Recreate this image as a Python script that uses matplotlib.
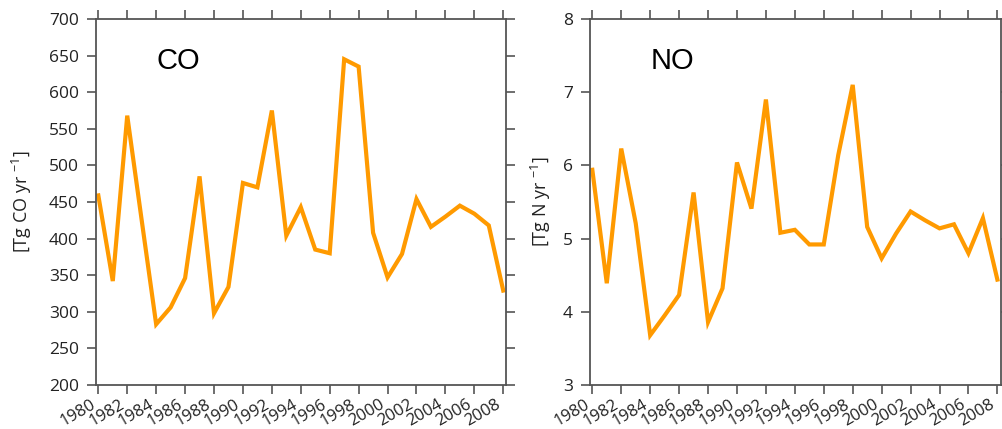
import matplotlib
matplotlib.use("Agg")
import matplotlib.pyplot as plt
import numpy as np

years = list(range(1980, 2009))
co_values = [459, 342, 568, 425, 283, 306, 346, 485, 298, 334, 476, 470, 575, 404,
             443, 385, 380, 645, 635, 408, 347, 379, 454, 416, 430, 445, 434, 418, 329]
no_values = [5.94, 4.39, 6.23, 5.21, 3.68, 3.95, 4.23, 5.63, 3.86, 4.32, 6.04, 5.41,
             6.90, 5.08, 5.12, 4.92, 4.92, 6.14, 7.10, 5.16, 4.73, 5.07, 5.37, 5.25,
             5.14, 5.195, 4.80, 5.28, 4.44]
xticks = list(range(1980, 2009, 2))
co_yticks = list(range(200, 701, 50))
no_yticks = [3, 4, 5, 6, 7, 8]
panel_titles = ["CO", "NO"]
ylabels = [r"[Tg CO yr $^{-1}$]", r"[Tg N yr $^{-1}$]"]

plt.rcParams['font.family'] = ['Open Sans', 'DejaVu Sans']
plt.rcParams['mathtext.fontset'] = 'custom'
plt.rcParams['mathtext.rm'] = 'Open Sans'
plt.rcParams['mathtext.it'] = 'Open Sans'
plt.rcParams['mathtext.default'] = 'regular'

fig = plt.figure(figsize=(10.03, 4.29), dpi=100)
axes = [fig.add_axes([96/1003, 44/429, 409.7/1003, 366/429]),
        fig.add_axes([590/1003, 44/429, 410.7/1003, 366/429])]

data = [(co_values, co_yticks, (200, 700), (1979.84, 2008.17), -0.151),
        (no_values, no_yticks, (3, 8), (1979.84, 2008.23), -0.090)]

spine_col = '#555555'
text_col = '#222222'
for ax, (vals, yt, ylim, xlim, labx), title, ylab in zip(axes, data, panel_titles, ylabels):
    ax.plot(years, vals, color='#FF9A00', lw=3.0, solid_joinstyle='miter')
    ax.set_xlim(*xlim)
    ax.set_ylim(*ylim)
    ax.set_xticks(xticks)
    ax.set_xticklabels([str(x) for x in xticks], rotation=30, ha='right',
                       fontsize=12, color=text_col)
    ax.set_yticks(yt)
    ax.set_yticklabels([str(v) for v in yt], fontsize=12.5, color=text_col)
    ax.tick_params(direction='out', length=6.8, width=1.2, color=spine_col,
                   top=True, right=True)
    ax.tick_params(axis='y', pad=5.5)
    ax.tick_params(axis='x', pad=1.5)
    for s in ax.spines.values():
        s.set_color(spine_col)
        s.set_linewidth(1.3)
    ax.set_ylabel(ylab, fontsize=13, color=text_col)
    ax.yaxis.set_label_coords(labx, 0.5)
    ax.text(0.148, 0.885, title, transform=ax.transAxes, fontsize=21,
            family='Liberation Sans', color='black', va='center', ha='left')

fig.savefig("out.png", dpi=100)
